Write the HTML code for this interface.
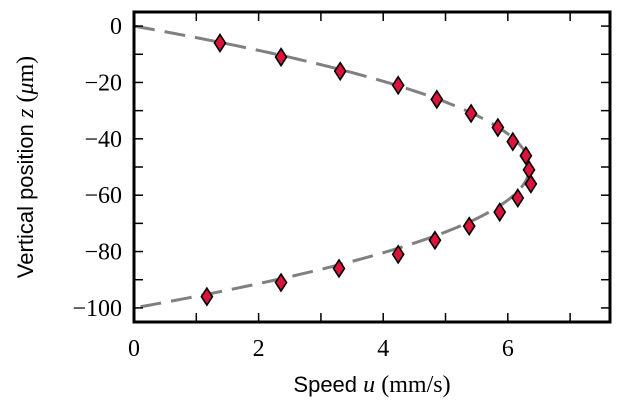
<!DOCTYPE html>
<html><head><meta charset="utf-8"><style>
html,body{margin:0;padding:0;background:#fff;width:623px;height:415px;overflow:hidden}
</style></head><body>
<svg id="chart" width="623" height="415" xmlns="http://www.w3.org/2000/svg">
<g id="grid"></g>
<g id="curve"></g>
<g id="points"></g>
<g id="axes"></g>
</svg>
<script>
const speeds = [1.38,2.36,3.31,4.24,4.86,5.41,5.84,6.08,6.29,6.34,6.37,6.16,5.87,5.38,4.83,4.24,3.29,2.36,1.17];
const heights = [-6,-11,-16,-21,-26,-31,-36,-41,-46,-51,-56,-61,-66,-71,-76,-81,-86,-91,-96];
const fitMax = [6.35];
const xTicks = [0,1,2,3,4,5,6,7];
const xTickLabels = ["0","","2","","4","","6",""];
const yTicks = [0,-20,-40,-60,-80,-100];
const yMinor = [-10,-30,-50,-70,-90];
const yTickLabels = ["0","\u221220","\u221240","\u221260","\u221280","\u2212100"];

const L=134,R=610,T=12,B=322;
const xMin=0,xMax=7.64,yMin=-105,yMax=5;
const X=v=>L+(v-xMin)/(xMax-xMin)*(R-L);
const Y=v=>T+(yMax-v)/(yMax-yMin)*(B-T);
const NS="http://www.w3.org/2000/svg";
function mk(tag,parent,attrs){const e=document.createElementNS(NS,tag);for(const k in attrs)e.setAttribute(k,attrs[k]);parent.appendChild(e);return e;}

const cg=document.getElementById('curve');
let d="";
for(let i=0;i<=200;i++){const z=-i*0.5;const u=4*fitMax[0]*(-z)*(100+z)/10000;d+=(i?"L":"M")+X(u).toFixed(2)+","+Y(z).toFixed(2);}
const cp=mk('path',cg,{d:d,fill:'none',stroke:'#808080','stroke-width':3,'stroke-dasharray':'21,10'});



const pg=document.getElementById('points');
speeds.forEach((u,i)=>{const cx=X(u),cy=Y(heights[i]);
const p=mk('polygon',pg,{points:`${cx},${cy-8.5} ${cx+5.5},${cy} ${cx},${cy+8.5} ${cx-5.5},${cy}`,fill:'#dc143c',stroke:'#000','stroke-width':1.6});


});

const ag=document.getElementById('axes');
const frame=mk('rect',ag,{x:L,y:T,width:R-L,height:B-T,fill:'none',stroke:'#000','stroke-width':3});


xTicks.forEach((v,i)=>{const x=X(v);
mk('line',ag,{x1:x,x2:x,y1:B,y2:B-9,stroke:'#000','stroke-width':1.5});
mk('line',ag,{x1:x,x2:x,y1:T,y2:T+9,stroke:'#000','stroke-width':1.5});
if(xTickLabels[i]){const t=mk('text',ag,{x:x,y:B+34,'text-anchor':'middle','font-family':'Liberation Serif, serif','font-size':24});t.textContent=xTickLabels[i];

}
});
yTicks.concat(yMinor).forEach(v=>{const y=Y(v);
mk('line',ag,{x1:L,x2:L+9,y1:y,y2:y,stroke:'#000','stroke-width':1.5});
mk('line',ag,{x1:R,x2:R-9,y1:y,y2:y,stroke:'#000','stroke-width':1.5});});
yTicks.forEach((v,i)=>{const t=mk('text',ag,{x:L-12,y:Y(v)+8,'text-anchor':'end','font-family':'Liberation Serif, serif','font-size':24});t.textContent=yTickLabels[i];

});

const xt=mk('text',ag,{x:372,y:392,'text-anchor':'middle','font-family':'Liberation Sans, sans-serif','font-size':22});
xt.innerHTML='Speed <tspan font-family="Liberation Serif, serif" font-style="italic" font-size="24">u</tspan> <tspan font-family="Liberation Serif, serif" font-size="24">(mm/s)</tspan>';


const yt=mk('text',ag,{x:0,y:0,'text-anchor':'middle','font-family':'Liberation Sans, sans-serif','font-size':22,transform:'translate(33,167) rotate(-90)'});
yt.innerHTML='Vertical position <tspan font-family="Liberation Serif, serif" font-style="italic" font-size="24">z</tspan> <tspan font-family="Liberation Serif, serif" font-size="24">(<tspan font-style="italic">μ</tspan>m)</tspan>';


</script>
</body></html>
